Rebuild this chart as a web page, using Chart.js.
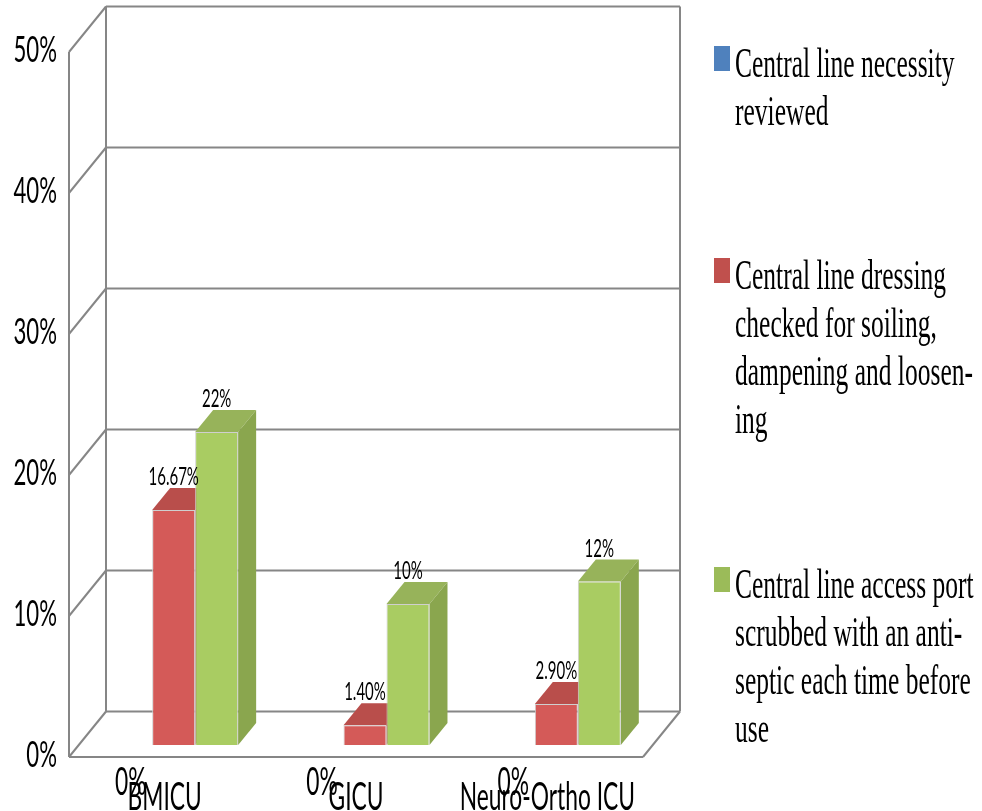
<!DOCTYPE html>
<html>
<head>
<meta charset="utf-8">
<style>
  html, body { margin: 0; padding: 0; background: #fff; }
  #wrap { width: 982px; height: 811px; }
</style>
<script src="https://cdn.jsdelivr.net/npm/chart.js@4"></script>
</head>
<body>
<div id="wrap"><canvas id="chart" width="982" height="811"></canvas></div>
<script>
// data
const categories = ["BMICU", "GICU", "Neuro-Ortho ICU"];
const necessityValues = [0, 0, 0];
const dressingValues = [16.67, 1.4, 2.9];
const scrubValues = [22.2, 10, 11.6];
const necessityLabels = ["0%", "0%", "0%"];
const dressingLabels = ["16.67%", "1.40%", "2.90%"];
const scrubLabels = ["22%", "10%", "12%"];
const necessityLegend = ["Central line necessity", "reviewed"];
const dressingLegend = ["Central line dressing", "checked for soiling,", "dampening and loosen-", "ing"];
const scrubLegend = ["Central line access port", "scrubbed with an anti-", "septic each time before", "use"];
const yTicks = [0, 10, 20, 30, 40, 50];

// the picture is squeezed sideways, so all text gets squeezed the same way
const SQUEEZE = 0.6;
// 3d depth: from bar plane to front edge of the floor, and to the back wall
const FRONT = { x: -9, y: 12 };
const BACK = { x: 28, y: -33.5 };
const BAR_DEPTH = { x: 18, y: -22 };
const GRID = "#868686";

const sideColors = ["#3f6797", "#a03f3c", "#8aa64e"];
const topColors = ["#4a76ad", "#b94e4b", "#97b35a"];
const labelSets = [necessityLabels, dressingLabels, scrubLabels];

function poly(ctx, pts, fill) {
  ctx.beginPath();
  pts.forEach((p, i) => (i ? ctx.lineTo(p[0], p[1]) : ctx.moveTo(p[0], p[1])));
  ctx.closePath();
  ctx.fillStyle = fill;
  ctx.fill();
}

function line(ctx, x1, y1, x2, y2) {
  ctx.beginPath();
  ctx.moveTo(x1, y1);
  ctx.lineTo(x2, y2);
  ctx.stroke();
}

const squeezeText = {
  id: "squeezeText",
  beforeInit(chart) {
    const ctx = chart.ctx;
    const raw = ctx.fillText.bind(ctx);
    ctx.fillText = (t, x, y) => {
      ctx.save();
      ctx.translate(x, y);
      ctx.scale(SQUEEZE, 1);
      raw(t, 0, 0);
      ctx.restore();
    };
  },
};

// walls and floor, built on the y scale ticks
const walls = {
  id: "walls",
  beforeDatasetsDraw(chart) {
    const ctx = chart.ctx;
    const y = chart.scales.y;
    const area = chart.chartArea;
    const top = y.getPixelForValue(50);
    const zero = y.getPixelForValue(0);
    ctx.save();
    ctx.strokeStyle = GRID;
    ctx.lineWidth = 2;
    yTicks.forEach((v) => {
      const py = y.getPixelForValue(v);
      line(ctx, area.left + FRONT.x, py + FRONT.y, area.left + BACK.x, py + BACK.y);
      line(ctx, area.left + BACK.x, py + BACK.y, area.right + BACK.x, py + BACK.y);
    });
    line(ctx, area.left + FRONT.x, top + FRONT.y, area.left + FRONT.x, zero + FRONT.y);
    line(ctx, area.left + BACK.x, top + BACK.y, area.left + BACK.x, zero + BACK.y);
    line(ctx, area.right + BACK.x, top + BACK.y, area.right + BACK.x, zero + BACK.y);
    line(ctx, area.left + FRONT.x, zero + FRONT.y, area.right + FRONT.x, zero + FRONT.y);
    line(ctx, area.right + FRONT.x, zero + FRONT.y, area.right + BACK.x, zero + BACK.y);

    // top and side faces of each bar go under the front faces the library draws next
    chart.data.datasets.forEach((d, ds) => {
      chart.getDatasetMeta(ds).data.forEach((bar) => {
        const b = bar.getProps(["x", "y", "base", "width"]);
        if (b.base - b.y < 1) return;
        const l = b.x - b.width / 2;
        const r = b.x + b.width / 2;
        const dx = BAR_DEPTH.x;
        const dy = BAR_DEPTH.y;
        poly(ctx, [[l, b.y], [r, b.y], [r + dx, b.y + dy], [l + dx, b.y + dy]], topColors[ds]);
        poly(ctx, [[r, b.y], [r + dx, b.y + dy], [r + dx, b.base + dy], [r, b.base]], sideColors[ds]);
      });
    });
    ctx.restore();
  },
};

// value labels and the legend on the right
const labelsAndLegend = {
  id: "labelsAndLegend",
  afterDraw(chart) {
    const ctx = chart.ctx;
    ctx.save();
    ctx.textAlign = "center";
    ctx.textBaseline = "middle";
    ctx.fillStyle = "#000";
    labelSets.forEach((labels, ds) => {
      chart.getDatasetMeta(ds).data.forEach((bar, i) => {
        if (ds === 0) {
          // the 0% labels sit under the floor
          ctx.font = "38px Lato";
          ctx.fillText(labels[i], bar.x, bar.base + 38);
        } else {
          ctx.font = "25px Lato";
          ctx.fillText(labels[i], bar.x, bar.y - 33);
        }
      });
    });
    ctx.textAlign = "left";
    ctx.font = "42.5px 'Liberation Serif'";
    chart.data.datasets.forEach((d, ds) => {
      const startY = [64, 276, 585][ds];
      ctx.fillStyle = d.legendColor;
      ctx.fillRect(714, startY - 18, 16, 25);
      ctx.fillStyle = "#000";
      d.legendLines.forEach((t, i) => ctx.fillText(t, 735, startY + 2 + i * 48));
    });
    ctx.restore();
  },
};

new Chart(document.getElementById("chart"), {
  type: "bar",
  data: {
    labels: categories,
    datasets: [
      { label: necessityLegend.join(" "), data: necessityValues, backgroundColor: "#4f81bd", legendColor: "#4f81bd", legendLines: necessityLegend, borderWidth: 0 },
      { label: dressingLegend.join(" "), data: dressingValues, backgroundColor: "#d45a58", legendColor: "#c0504d", legendLines: dressingLegend, borderWidth: 1, borderColor: "#cfcfcf" },
      { label: scrubLegend.join(" "), data: scrubValues, backgroundColor: "#a9cc62", legendColor: "#9bbb59", legendLines: scrubLegend, borderWidth: 1, borderColor: "#cfcfcf" },
    ],
  },
  options: {
    responsive: false,
    animation: false,
    categoryPercentage: 0.674,
    barPercentage: 1,
    layout: { autoPadding: false, padding: { left: 0, top: 40, right: 330, bottom: 0 } },
    plugins: { legend: { display: false }, tooltip: { enabled: false } },
    scales: {
      x: {
        afterFit(scale) {
          scale.height = 66;
          scale.paddingLeft = 0;
          scale.paddingRight = 0;
        },
        grid: { display: false, drawTicks: false },
        border: { display: false },
        ticks: { font: { family: "Lato", size: 38 }, color: "#000", padding: 30, labelOffset: -9, maxRotation: 0, minRotation: 0, autoSkip: false },
      },
      y: {
        min: 0,
        max: 50,
        afterFit(scale) {
          scale.width = 78;
          scale.paddingTop = 0;
          scale.paddingBottom = 0;
        },
        grid: { display: false, drawTicks: false },
        border: { display: false },
        ticks: { stepSize: 10, font: { family: "Lato", size: 37 }, color: "#000", padding: 21, labelOffset: 10, callback: (v) => v + "%" },
      },
    },
  },
  plugins: [squeezeText, walls, labelsAndLegend],
});
</script>
</body>
</html>
